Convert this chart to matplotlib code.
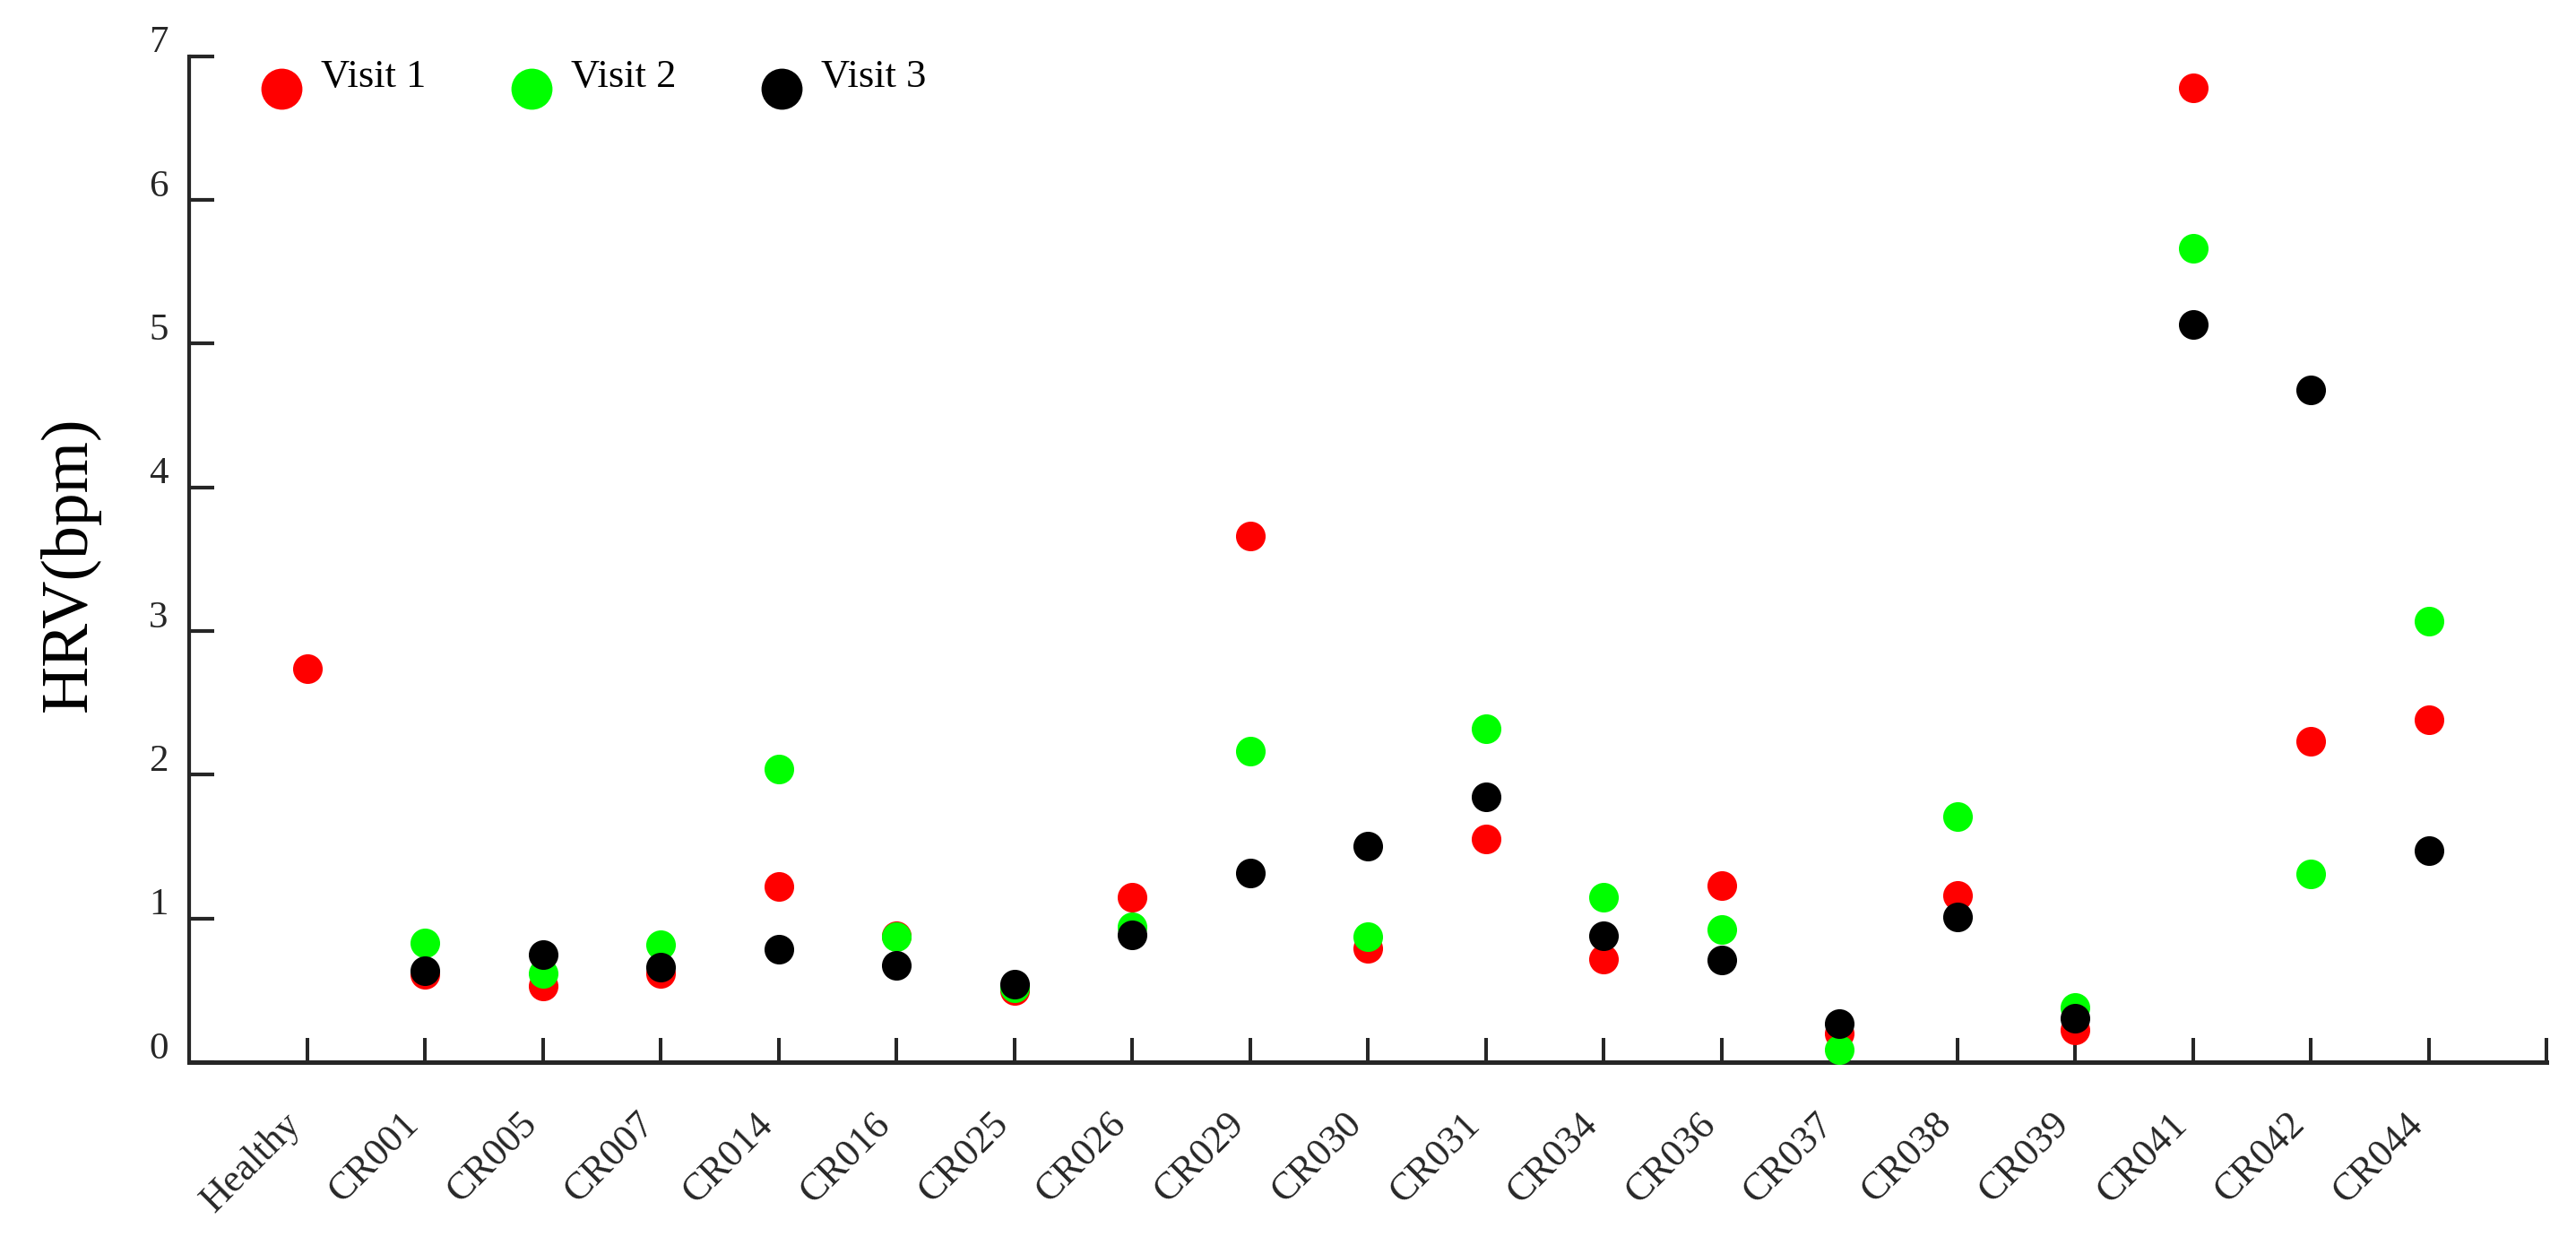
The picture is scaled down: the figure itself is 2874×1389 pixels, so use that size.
import matplotlib
matplotlib.use('Agg')
import matplotlib.pyplot as plt
import matplotlib.transforms as mtransforms
import numpy as np

categories = ['Healthy', 'CR001', 'CR005', 'CR007', 'CR014', 'CR016', 'CR025',
              'CR026', 'CR029', 'CR030', 'CR031', 'CR034', 'CR036', 'CR037',
              'CR038', 'CR039', 'CR041', 'CR042', 'CR044']
visit1 = [2.74, 0.61, 0.53, 0.615, 1.22, 0.88, 0.50, 1.15, 3.66, 0.79, 1.55,
          0.72, 1.23, 0.20, 1.16, 0.225, 6.78, 2.23, 2.38]
visit2 = [np.nan, 0.83, 0.62, 0.82, 2.04, 0.87, 0.515, 0.94, 2.165, 0.875, 2.32,
          1.15, 0.92, 0.09, 1.71, 0.38, 5.66, 1.31, 3.07]
visit3 = [np.nan, 0.636, 0.747, 0.66, 0.785, 0.672, 0.545, 0.886, 1.315, 1.50,
          1.845, 0.88, 0.71, 0.27, 1.01, 0.306, 5.13, 4.68, 1.47]
series_labels = ['Visit 1', 'Visit 2', 'Visit 3']
series_colors = ['#ff0000', '#00ff00', '#000000']
yticks = [0, 1, 2, 3, 4, 5, 6, 7]

plt.rcParams['font.family'] = ['Liberation Serif', 'DejaVu Serif']
AX = '#262626'

fig = plt.figure(figsize=(28.74, 13.89), dpi=100)
ax = fig.add_axes([211 / 2874, 1 - 1185 / 1389, (2841 - 211) / 2874, (1185 - 62.5) / 1389])

x = np.arange(len(categories))
for vals, lab, col in zip([visit1, visit2, visit3], series_labels, series_colors):
    ax.plot(x, vals, linestyle='none', marker='o', markersize=23.8,
            markerfacecolor=col, markeredgecolor=col, markeredgewidth=0,
            color=col, label=lab, clip_on=False, zorder=3)

ax.set_xlim(-1, 19)
ax.set_ylim(0, 7)

for s in ['top', 'right']:
    ax.spines[s].set_visible(False)
ax.spines['bottom'].set_linewidth(3.6)
ax.spines['left'].set_linewidth(3.0)
ax.spines['bottom'].set_color(AX)
ax.spines['left'].set_color(AX)

ax.set_xticks(np.arange(len(categories) + 1))
ax.set_xticklabels(categories + [''], rotation=45, ha='right', va='center',
                   rotation_mode='anchor', fontsize=31.5, color=AX)
ax.tick_params(axis='x', direction='in', length=19.5, width=2.9, color=AX, pad=47)
xoff = mtransforms.ScaledTranslation(-13 / 100, 2 / 100, fig.dpi_scale_trans)
for lab in ax.get_xticklabels():
    lab.set_transform(lab.get_transform() + xoff)

ax.set_yticks(yticks)
ax.set_yticklabels([str(v) for v in yticks], fontsize=31, color=AX)
ax.tick_params(axis='y', direction='in', length=20, width=3.0, color=AX, pad=17)
offset = mtransforms.ScaledTranslation(0, 19 / 100, fig.dpi_scale_trans)
for lab in ax.get_yticklabels():
    lab.set_transform(lab.get_transform() + offset)

ax.set_ylabel('HRV(bpm)', fontsize=53, color='black')
ax.yaxis.set_label_coords(-0.0376, 0.495)

leg = ax.legend(loc='upper left', bbox_to_anchor=(0.0306, 0.981), ncol=3,
                frameon=False, fontsize=32, markerscale=33 / 23.8,
                handlelength=1.0, handletextpad=0.5, columnspacing=2.14,
                borderpad=0, borderaxespad=0)
for t in leg.get_texts():
    t.set_position((0, 18))
    t.set_color('black')

fig.savefig('out.png', dpi=100)
